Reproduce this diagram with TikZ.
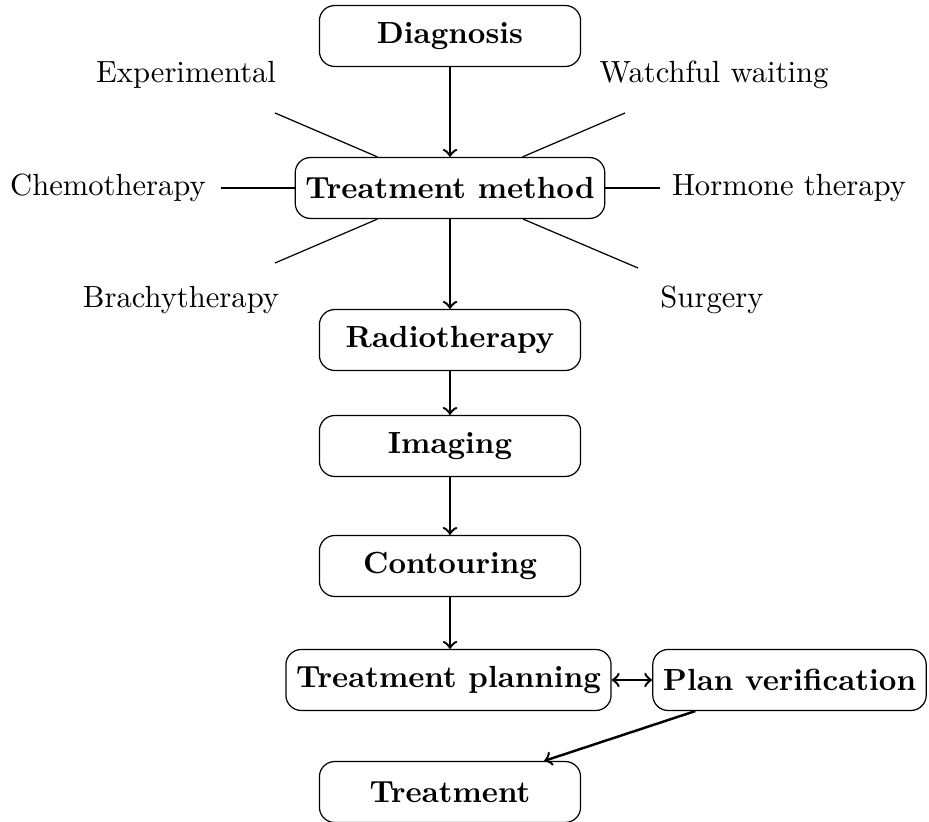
\documentclass[tikz,border=0pt]{standalone}
\usetikzlibrary{arrows}
\begin{document}
\begin{tikzpicture}[x=0.3268pt,y=-0.3268pt,
  stepbox/.style={draw,rounded corners=5pt,minimum width=3cm,minimum height=0.7cm,font=\bfseries,line width=0.4pt},
  lbl/.style={inner sep=3pt},
  flow/.style={->,thick},
  spoke/.style={line width=0.4pt}]
\useasboundingbox (0,0) rectangle (929,822);
\node[stepbox] (diag) at (450,36) {Diagnosis};
\node[stepbox] (method) at (450,188) {Treatment method};
\node[stepbox] (radio) at (450,340) {Radiotherapy};
\node[stepbox] (imag) at (450,446) {Imaging};
\node[stepbox] (cont) at (450,566) {Contouring};
\node[stepbox] (plan) at (448.5,680) {Treatment planning};
\node[stepbox] (verif) at (789.5,680) {Plan verification};
\node[stepbox] (treat) at (450,792) {Treatment};

\node[lbl] (exp) at (186,75) {Experimental};
\node[lbl] (watch) at (714,75) {Watchful waiting};
\node[lbl] (chemo) at (108,188) {Chemotherapy};
\node[lbl] (horm) at (789,188) {Hormone therapy};
\node[lbl] (brachy) at (181,300) {Brachytherapy};
\node[lbl] (surg) at (712,300) {Surgery};

\coordinate (eExp) at (275,113);
\coordinate (eWatch) at (625,113);
\coordinate (eChemo) at (221,188);
\coordinate (eHorm) at (660,188);
\coordinate (eBrachy) at (275,263);
\coordinate (eSurg) at (638,268);

\draw[spoke] (method) -- (eExp);
\draw[spoke] (method) -- (eWatch);
\draw[spoke] (method) -- (eChemo);
\draw[spoke] (method) -- (eHorm);
\draw[spoke] (method) -- (eBrachy);
\draw[spoke] (method) -- (eSurg);

\draw[flow] (diag) -- (method);
\draw[flow] (method) -- (radio);
\draw[flow] (radio) -- (imag);
\draw[flow] (imag) -- (cont);
\draw[flow] (cont.south) -- (cont.south |- plan.north);
\draw[<->,thick] (plan) -- (verif);
\draw[flow] (verif) -- (treat);
\end{tikzpicture}
\end{document}
